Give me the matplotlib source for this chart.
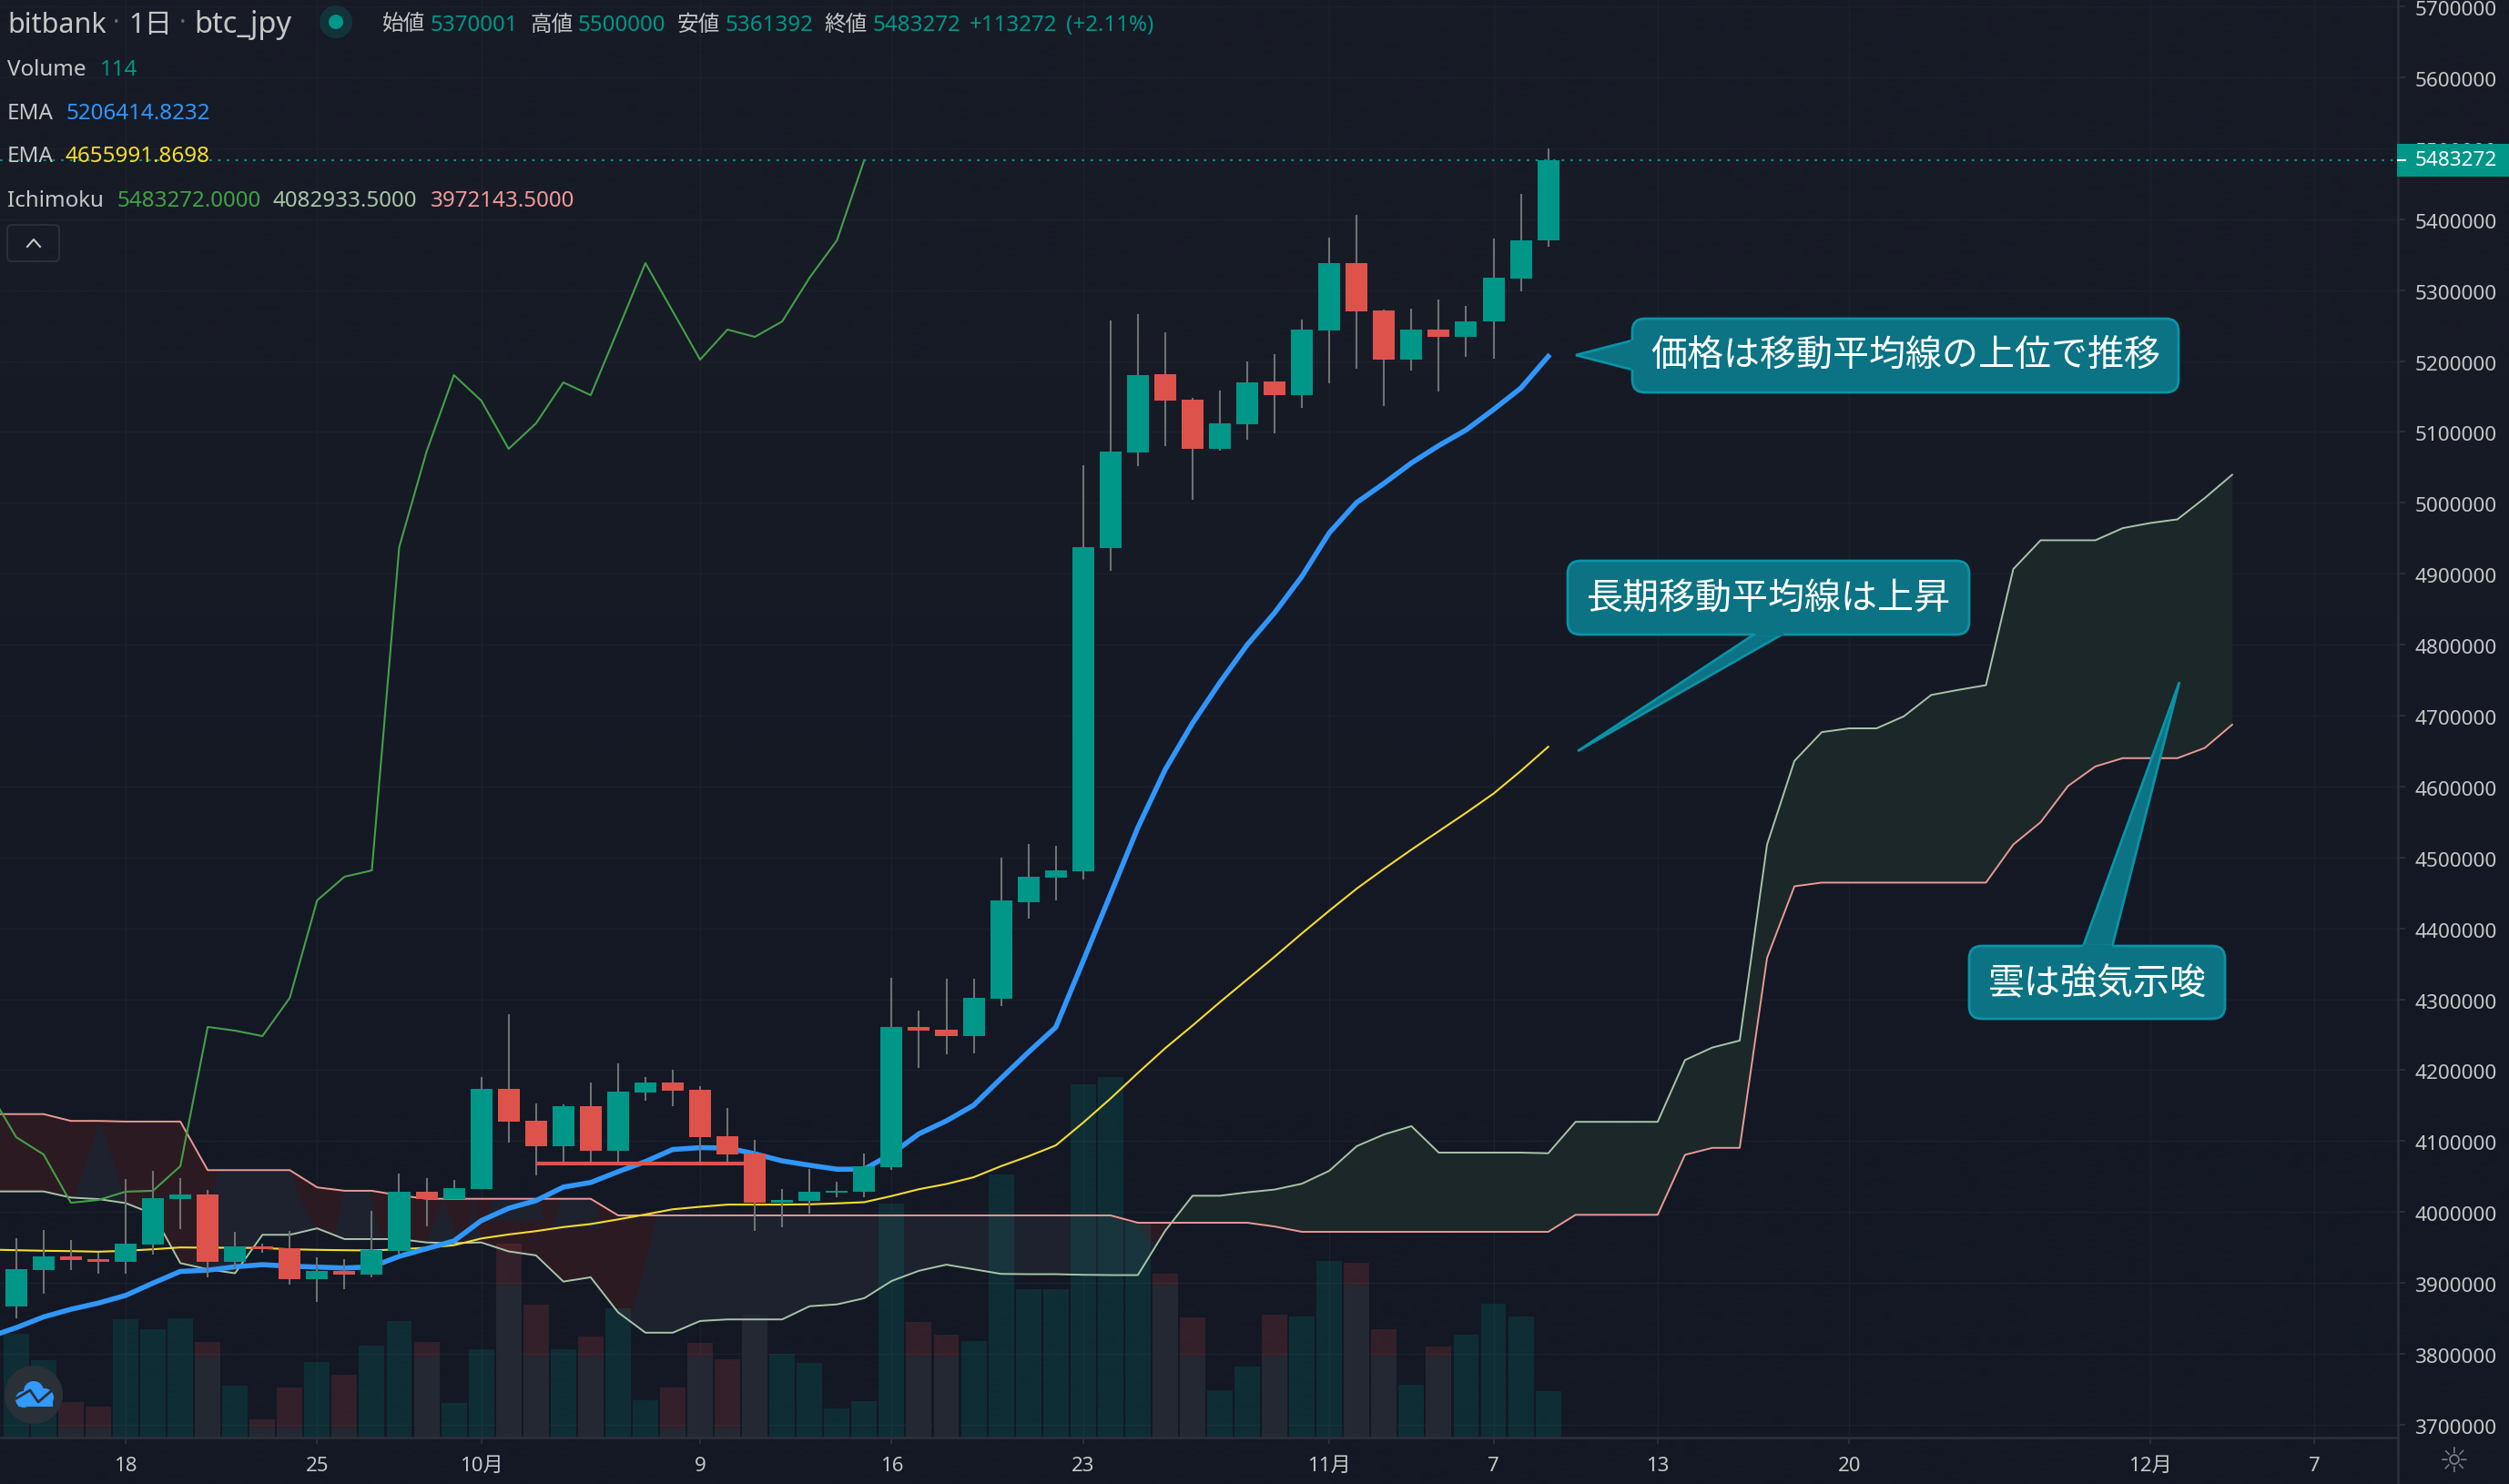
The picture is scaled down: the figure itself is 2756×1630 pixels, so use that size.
"""
bitbank btc_jpy daily chart with EMA, Ichimoku cloud, volume and callouts.
Prices are in thousands of yen, x is days counted from Sep 18.
"""

import numpy as np
import matplotlib
matplotlib.use("Agg")
import matplotlib.pyplot as plt
from matplotlib.patches import Circle, FancyBboxPatch, Polygon, Rectangle
from matplotlib.transforms import ScaledTranslation

plt.rcParams['font.family'] = ['Noto Sans', 'Noto Sans CJK JP', 'DejaVu Sans']

# candles, first one is day -4
candle_days = np.arange(-4, 53)
opens = [3867.2, 3918.5, 3937.5, 3933.2, 3929.7, 3954.0, 4018.3, 4024.8, 3929.7, 3951.4,
         3948.8, 3905.4, 3916.7, 3911.5, 3944.9, 4028.7, 4018.3, 4032.6, 4173.6, 4128.5,
         4092.9, 4149.3, 4086.4, 4168.4, 4182.8, 4172.3, 4106.8, 4082.5, 4013.1, 4015.7,
         4027.4, 4028.7, 4063.4, 4261.0, 4257.0, 4248.1, 4300.7, 4436.8, 4471.5, 4480.5,
         4936.2, 5071.0, 5181.4, 5145.4, 5076.1, 5110.8, 5171.1, 5151.8, 5243.0, 5338.0,
         5271.2, 5201.9, 5244.3, 5234.0, 5255.8, 5316.1, 5370.0]
closes = [3919.3, 3937.5, 3932.3, 3929.7, 3955.3, 4019.1, 4024.8, 3929.7, 3951.4, 3947.5,
          3905.4, 3916.7, 3911.5, 3946.2, 4028.7, 4018.3, 4033.9, 4173.6, 4127.2, 4092.9,
          4149.3, 4086.4, 4169.7, 4182.8, 4171.0, 4105.5, 4081.2, 4013.1, 4017.0, 4028.7,
          4030.0, 4064.7, 4261.0, 4255.8, 4248.1, 4302.0, 4439.4, 4472.8, 4481.7, 4937.5,
          5072.2, 5180.1, 5144.1, 5076.1, 5112.0, 5169.8, 5151.8, 5244.3, 5338.0, 5269.9,
          5201.9, 5244.3, 5234.0, 5255.8, 5317.4, 5370.0, 5483.3]
highs = [3962.7, 3974.4, 3960.6, 3943.2, 4046.5, 4058.2, 4047.8, 4031.3, 3972.3, 3954.9,
         3973.1, 3936.7, 3933.6, 4001.8, 4054.7, 4047.8, 4045.2, 4190.1, 4279.1, 4153.2,
         4151.5, 4182.8, 4209.7, 4190.1, 4200.6, 4177.5, 4146.7, 4101.6, 4032.6, 4061.2,
         4042.6, 4082.5, 4330.2, 4284.0, 4329.0, 4329.0, 4499.7, 4519.0, 4516.4, 5052.9,
         5257.1, 5266.1, 5240.4, 5148.0, 5158.3, 5199.3, 5209.6, 5258.4, 5373.9, 5406.0,
         5272.5, 5273.8, 5286.6, 5277.6, 5372.6, 5435.5, 5500.0]
lows = [3850.7, 3884.6, 3918.0, 3912.8, 3912.8, 3940.2, 3975.7, 3908.5, 3920.2, 3942.3,
        3897.6, 3873.3, 3891.1, 3908.5, 3941.0, 3980.0, 4018.3, 4032.6, 4097.7, 4051.7,
        4068.2, 4071.2, 4071.2, 4157.2, 4149.3, 4071.2, 4066.9, 3973.6, 3977.9, 3997.9,
        4020.9, 4020.9, 4059.9, 4203.2, 4222.4, 4223.7, 4290.5, 4413.7, 4439.4, 4468.9,
        4904.0, 5051.7, 5080.0, 5004.2, 5073.5, 5089.0, 5098.0, 5133.9, 5168.5, 5189.0,
        5136.4, 5186.5, 5157.0, 5205.7, 5203.2, 5298.2, 5361.4]

# volume for the same days, grey_volume is the greyed lower part of the red bars
volumes = [253, 189, 86, 76, 289, 263, 291, 233, 127, 45, 121, 185, 152, 225, 284, 233, 85,
           216, 473, 323, 216, 247, 316, 92, 123, 231, 191, 300, 203, 182, 70, 89, 571, 281,
           251, 236, 642, 362, 362, 860, 879, 524, 399, 293, 116, 172, 300, 296, 431, 425,
           265, 129, 221, 251, 325, 296, 114]
grey_volume = [0, 0, 24, 24, 0, 0, 0, 197, 0, 24, 24, 0, 24, 0, 0, 197, 0,
               0, 371, 197, 0, 197, 0, 0, 24, 197, 24, 300, 0, 0, 0, 0, 0, 197,
               197, 0, 0, 0, 0, 0, 0, 0, 371, 197, 0, 0, 197, 0, 0, 371,
               197, 0, 197, 0, 0, 0, 0]

# EMAs, first value is day -5
ema_days = np.arange(-5, 53)
ema_short = [3823.8, 3836.9, 3852.1, 3862.9, 3871.6, 3882.4, 3899.8, 3916.3, 3918.0, 3922.8,
             3925.8, 3923.7, 3922.4, 3921.1, 3922.8, 3937.5, 3948.4, 3959.2, 3987.9, 4005.3,
             4016.1, 4035.2, 4041.7, 4056.9, 4071.2, 4088.2, 4090.8, 4090.3, 4082.1, 4072.1,
             4066.0, 4060.4, 4060.4, 4082.1, 4110.3, 4128.5, 4150.6, 4188.4, 4225.3, 4260.6,
             4353.7, 4447.9, 4542.0, 4623.9, 4689.4, 4746.7, 4799.9, 4845.0, 4896.5, 4957.9,
             5000.5, 5027.5, 5056.2, 5080.7, 5102.8, 5131.5, 5161.8, 5206.4]
ema_long = [3947.1, 3946.2, 3945.4, 3944.9, 3944.1, 3945.4, 3947.5, 3950.1, 3949.7, 3949.7,
            3949.3, 3947.5, 3946.7, 3946.2, 3945.8, 3947.5, 3949.7, 3953.2, 3962.7, 3968.4,
            3973.1, 3978.8, 3983.1, 3989.6, 3996.6, 4003.9, 4007.4, 4010.5, 4010.5, 4010.5,
            4010.9, 4012.2, 4013.9, 4022.6, 4032.2, 4039.5, 4049.1, 4064.7, 4078.6, 4094.0,
            4126.0, 4160.0, 4196.0, 4231.0, 4263.0, 4296.0, 4328.0, 4360.0, 4393.0, 4425.0,
            4456.0, 4484.0, 4511.0, 4537.0, 4563.0, 4590.0, 4622.0, 4656.0]

# Ichimoku lagging line, first value is day -6
chikou_days = np.arange(-6, 28)
chikou = [4182.8, 4171.0, 4105.5, 4081.2, 4013.1, 4017.0, 4028.7, 4030.0, 4064.7, 4261.0,
          4255.8, 4248.1, 4302.0, 4439.4, 4472.8, 4481.7, 4937.5, 5072.2, 5180.1, 5144.1,
          5076.1, 5112.0, 5169.8, 5151.8, 5244.3, 5338.0, 5269.9, 5201.9, 5244.3, 5234.0,
          5255.8, 5317.4, 5370.0, 5483.3]

# Ichimoku cloud edges, first value is day -5
cloud_days = np.arange(-5, 78)
senkou_a = [4029.1, 4029.1, 4029.1, 4020.4, 4018.3, 4012.6, 3997.4, 3928.0, 3919.3, 3913.7,
            3967.9, 3967.9, 3977.0, 3961.9, 3961.9, 3961.9, 3957.1, 3956.2, 3957.1, 3944.5,
            3938.9, 3902.0, 3908.0, 3858.6, 3829.9, 3829.9, 3846.4, 3848.6, 3848.6, 3848.6,
            3867.2, 3869.8, 3878.5, 3902.8, 3917.2, 3925.8, 3919.3, 3912.8, 3912.4, 3912.4,
            3911.5, 3911.1, 3911.1, 3973.6, 4023.0, 4023.0, 4027.8, 4031.7, 4040.0, 4058.2,
            4092.9, 4109.4, 4121.1, 4083.8, 4083.8, 4083.8, 4083.8, 4082.9, 4127.2, 4127.2,
            4127.2, 4127.2, 4214.3, 4232.0, 4241.8, 4518.2, 4636.1, 4676.7, 4682.0, 4682.0,
            4699.0, 4729.1, 4736.3, 4742.9, 4906.6, 4947.2, 4947.2, 4947.2, 4964.3, 4971.5,
            4976.7, 5006.8, 5039.6]
senkou_b = [4138.1, 4138.1, 4138.1, 4128.5, 4128.5, 4127.6, 4127.6, 4127.6, 4059.1, 4059.1,
            4059.1, 4059.1, 4034.8, 4030.0, 4030.0, 4023.5, 4018.7, 4018.7, 4018.7, 4018.7,
            4018.7, 4018.7, 4018.7, 3995.3, 3995.3, 3995.3, 3995.3, 3995.3, 3995.3, 3995.3,
            3995.3, 3995.3, 3995.3, 3995.3, 3995.3, 3995.3, 3995.3, 3995.3, 3995.3, 3995.3,
            3995.3, 3995.3, 3984.9, 3984.9, 3984.9, 3984.9, 3984.9, 3979.6, 3972.1, 3972.1,
            3972.1, 3972.1, 3972.1, 3972.1, 3972.1, 3972.1, 3972.1, 3972.1, 3996.1, 3996.1,
            3996.1, 3996.1, 4080.7, 4090.5, 4090.5, 4358.4, 4459.3, 4464.5, 4464.5, 4464.5,
            4464.5, 4464.5, 4464.5, 4464.5, 4518.2, 4549.7, 4600.7, 4628.3, 4640.0, 4640.0,
            4640.0, 4654.4, 4687.2]
# parts of the red cloud that look grey in the screenshot:
# first day, last day, days to taper over, lowest price of the patch
grey_spans = [(-1.9, 0.0, 0.95, 3900), (2.4, 7.0, 1.0, 3900), (7.6, 9.3, 0.4, 3900),
              (11.0, 12.2, 0.6, 3900), (12.4, 13.0, 0.3, 3900),
              (13.2, 15.3, 0.2, 3988.8), (15.6, 17.4, 0.3, 3977.9), (18.4, 37.9, 1.0, 3800)]

# axis ticks
price_ticks = [3700, 3800, 3900, 4000, 4100, 4200, 4300, 4400, 4500, 4600, 4700,
               4800, 4900, 5000, 5100, 5200, 5300, 5400, 5500, 5600, 5700]
date_ticks = [0, 7, 13, 21, 28, 35, 44, 50, 56, 63, 74, 80]
date_labels = ['18', '25', '10月', '9', '16', '23', '11月', '7', '13', '20', '12月', '7']

last_price = 5483.272
red_level = 4069.0
red_level_days = (15, 22.6)
vol_to_price = 0.5787

BG_TOP = '#171b26'
BG_BOTTOM = '#131824'
TEAL = '#009688'
RED = '#de524c'
WICK = '#707173'
AXIS = '#2a2e39'
GRID = '#1c212c'
LABEL = '#c5c8c6'
BLUE = '#3096fb'
YELLOW = '#f5dc2f'
LAG_GREEN = '#43a047'
PALE_GREEN = '#a8c4a8'
PINK = '#ea9a94'
CALLOUT = '#0b7383'
CALLOUT_EDGE = '#0a93a6'

W, H = 2756, 1630
PLOT_R, PLOT_B = 2634, 1579

fig = plt.figure(figsize=(W / 100, H / 100), dpi=100)

# background, very slightly lighter at the top
bg = fig.add_axes([0, 0, 1, 1], zorder=-1)
bg.imshow([[matplotlib.colors.to_rgb(BG_TOP)], [matplotlib.colors.to_rgb(BG_BOTTOM)]],
          aspect='auto', interpolation='bilinear')
bg.axis('off')

ax = fig.add_axes([0, 1 - PLOT_B / H, PLOT_R / W, PLOT_B / H])
ax.patch.set_visible(False)
ax.set_xlim(-4.592, 83.06)
ax.set_ylim(3682.0, 5709.0)
y_min = ax.get_ylim()[0]

# cloud
a = np.array(senkou_a)
b = np.array(senkou_b)
ax.fill_between(cloud_days, a, b, where=a >= b, interpolate=True, color='#1b2729', lw=0, zorder=1)
ax.fill_between(cloud_days, a, b, where=a <= b, interpolate=True, color='#2c1a22', lw=0, zorder=1)
for start, end, taper, floor in grey_spans:
    xs = np.linspace(start, end, 60)
    low = np.maximum(np.interp(xs, cloud_days, a), floor)
    high = np.interp(xs, cloud_days, b)
    frac = np.clip(np.minimum(xs - start, end - xs) / taper, 0, 1)
    ax.fill_between(xs, low, low + frac * (high - low), where=high > low,
                    color='#1d222e', lw=0, zorder=1.1)

# volume sits on the bottom edge of the price axis
up = np.array(closes) >= np.array(opens)
vol = np.array(volumes) * vol_to_price
ax.bar(candle_days[up], vol[up], 0.93, bottom=y_min, color=TEAL, alpha=0.17, lw=0, zorder=2)
ax.bar(candle_days[~up], vol[~up], 0.93, bottom=y_min, color='#ef5350', alpha=0.15, lw=0, zorder=2)
ax.bar(candle_days, np.array(grey_volume) * vol_to_price, 0.93, bottom=y_min,
       color='#232833', lw=0, zorder=2.1)

# indicator lines
ax.plot(cloud_days, senkou_a, color=PALE_GREEN, lw=1.4, zorder=3)
ax.plot(cloud_days, senkou_b, color=PINK, lw=1.4, zorder=3)
ax.plot(chikou_days, chikou, color=LAG_GREEN, lw=1.5, zorder=3)
ax.plot(ema_days, ema_long, color=YELLOW, lw=1.5, zorder=4)
ax.plot(ema_days, ema_short, color=BLUE, lw=4, zorder=4, solid_joinstyle='round')

# candles
ax.vlines(candle_days, lows, highs, color=WICK, lw=1.5, zorder=5)
body_colors = [TEAL if u else RED for u in up]
ax.bar(candle_days, np.array(closes) - np.array(opens), 0.8, bottom=opens,
       color=body_colors, lw=0, zorder=6)
ax.hlines(red_level, red_level_days[0], red_level_days[1], color=RED, lw=3, zorder=5.5)

ax.axhline(last_price, color=TEAL, lw=1.5, ls=(0, (1.3, 3.3)), zorder=4)

# axes
ax.yaxis.tick_right()
ax.set_yticks(price_ticks)
ax.set_yticklabels([str(p * 1000) for p in price_ticks], fontsize=16.2, color=LABEL)
ax.set_xticks(date_ticks)
ax.set_xticklabels(date_labels, fontsize=16, color=LABEL)
ax.tick_params(axis='y', length=6, width=1.5, color=AXIS, pad=7.5)
ax.tick_params(axis='x', length=5, width=1.5, color=AXIS, pad=10)
ax.grid(True, color=GRID, lw=1, zorder=0)
ax.set_axisbelow(True)
for side in ['top', 'left']:
    ax.spines[side].set_visible(False)
for side in ['right', 'bottom']:
    ax.spines[side].set_color(AXIS)
    ax.spines[side].set_linewidth(2)
nudge = ScaledTranslation(0, -2 / 100, fig.dpi_scale_trans)
for tick_text in ax.get_yticklabels():
    tick_text.set_transform(tick_text.get_transform() + nudge)

# everything below is placed in screen pixels
ov = fig.add_axes([0, 0, 1, 1], zorder=5)
ov.set_xlim(0, W)
ov.set_ylim(H, 0)
ov.axis('off')
ov.patch.set_visible(False)

ov.plot([PLOT_R, PLOT_R], [PLOT_B, H], color=AXIS, lw=2)
ov.add_patch(Rectangle((PLOT_R - 1, 158), W - PLOT_R + 1, 36, color=TEAL, lw=0))
ov.plot([PLOT_R, PLOT_R + 8], [176, 176], color='white', lw=1.5)
ov.text(2653, 177, '5483272', color='white', fontsize=16.2, va='center')


def label(x, y, text, color, size=17.4):
    ov.text(x, y, text, color=color, fontsize=size, va='center')


# header
label(8, 28, 'bitbank', LABEL, 22)
label(124, 26, '·', '#666a70', 20)
label(141, 28, '1日', LABEL, 22)
label(197, 26, '·', '#666a70', 20)
label(213, 28, 'btc_jpy', LABEL, 23.5)
ov.add_patch(Circle((369, 24), 18, color='#12333a', lw=0))
ov.add_patch(Circle((369, 24), 8, color=TEAL, lw=0))

for x, name, value in [(420, '始値', '5370001'), (582, '高値', '5500000'),
                       (744, '安値', '5361392'), (905, '終値', '5483272')]:
    label(x, 28, name, LABEL, 17)
    label(x + 53, 28, value, TEAL)
label(1065, 28, '+113272', TEAL)
label(1171, 28, '(+2.11%)', TEAL)

# indicator legend
label(8, 77, 'Volume', LABEL)
label(110, 77, '114', TEAL)
label(8, 125, 'EMA', LABEL)
label(72, 125, '5206414.8232', BLUE)
label(8, 172, 'EMA', LABEL)
label(72, 172, '4655991.8698', YELLOW)
label(8, 221, 'Ichimoku', LABEL)
label(129, 221, '5483272.0000', LAG_GREEN)
label(300, 221, '4082933.5000', PALE_GREEN)
label(473, 221, '3972143.5000', '#ef9a9a')

ov.add_patch(FancyBboxPatch((13, 252), 47, 30, boxstyle='round,pad=5',
                            fc='none', ec=AXIS, lw=1.5))
ov.plot([30, 37, 44], [271, 263, 271], color=LABEL, lw=1.5)


def callout(box, base_a, base_b, tip, text, text_xy):
    x0, y0, x1, y1 = box
    r = 14
    ov.add_patch(Polygon([base_a, tip, base_b], fc=CALLOUT, ec=CALLOUT_EDGE, lw=2, zorder=7))
    ov.add_patch(FancyBboxPatch((x0 + r, y0 + r), x1 - x0 - 2 * r, y1 - y0 - 2 * r,
                                boxstyle=f'round,pad={r}', fc=CALLOUT, ec=CALLOUT_EDGE,
                                lw=2, zorder=8))
    # hide the box edge where the pointer joins it
    ov.add_patch(Polygon([base_a, base_b, (np.mean([base_a[0], base_b[0]]), np.mean([base_a[1], base_b[1]]))],
                         fc=CALLOUT, ec=CALLOUT, lw=3, zorder=9))
    ov.text(text_xy[0], text_xy[1], text, color='white', fontsize=28.8, ha='center',
            va='center', family=['Noto Sans CJK JP', 'DejaVu Sans'], zorder=10)


callout((1793, 350, 2393, 431), (1793, 374), (1793, 406), (1731, 390),
        '価格は移動平均線の上位で推移', (2093, 391))
callout((1722, 616, 2163, 697), (1928, 696), (1959, 696), (1733, 825),
        '長期移動平均線は上昇', (1943, 658))
callout((2163, 1039, 2444, 1119), (2288, 1040), (2320, 1040), (2394, 749),
        '雲は強気示唆', (2304, 1080))

# settings icon bottom right
ov.text(2696, 1607, '☼', color='#787b86', fontsize=27, ha='center', va='center',
        family='DejaVu Sans')

# logo badge bottom left
ov.add_patch(Circle((37, 1532), 32, color='#2a3038', lw=0, zorder=8))
for cx, cy, rad in [(26, 1537, 9), (37, 1528, 11), (49, 1535, 10)]:
    ov.add_patch(Circle((cx, cy), rad, color='#3299ff', lw=0, zorder=9))
ov.add_patch(Rectangle((20, 1532), 38, 13, color='#3299ff', lw=0, zorder=9))
ov.plot([18, 33, 42, 56], [1536, 1527, 1540, 1528], color='#2a3038', lw=2, zorder=10)

fig.savefig('out.png', dpi=100)
